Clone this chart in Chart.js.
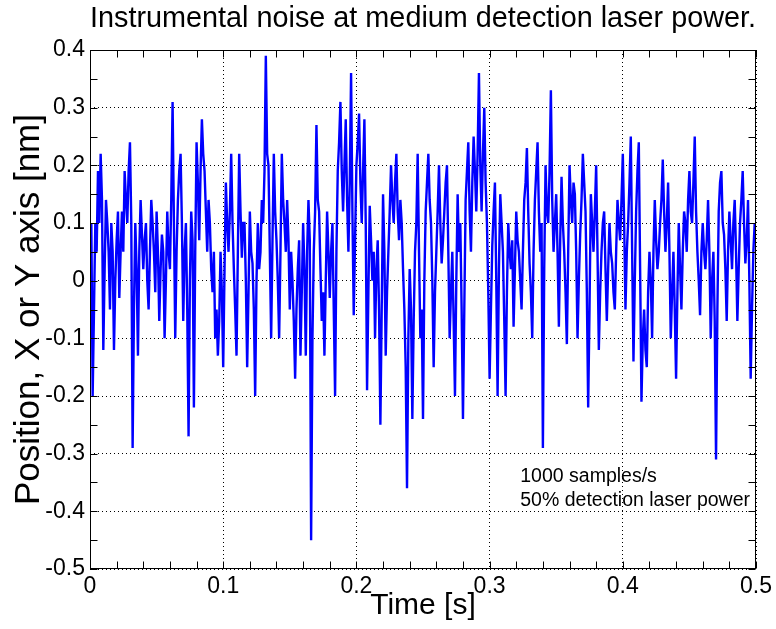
<!DOCTYPE html>
<html>
<head>
<meta charset="utf-8">
<title>Instrumental noise</title>
<script src="https://cdn.jsdelivr.net/npm/chart.js@4.4.0/dist/chart.umd.min.js"></script>
<style>
    html, body { margin: 0; padding: 0; background: #fff; }
    #wrap { width: 776px; height: 629px; }
</style>
</head>
<body>
<div id="wrap"><canvas id="noiseChart" width="776" height="629"></canvas></div>
<script>
// Position samples, 1000 samples/s
const sampleStep = 0.001;
const positionNm = [
    0.05, 0.10, -0.20, -0.05, 0.10, 0.05, 0.19, 0.10, 0.22, 0.14, -0.12, 0.02, 0.14, 0.10, 0.05, -0.05, 0.10, 0.05, -0.12, 0.00,
    0.07, 0.12, -0.03, 0.05, 0.12, 0.05, 0.19, 0.14, 0.10, 0.19, 0.24, 0.10, -0.29, -0.05, 0.10, 0.02, -0.13, 0.05, 0.14, 0.08,
    0.02, 0.07, 0.10, 0.00, -0.05, 0.05, 0.14, 0.10, 0.05, -0.02, 0.12, 0.05, -0.07, 0.02, 0.08, 0.05, -0.10, 0.00, 0.12, 0.05,
    0.02, 0.14, 0.31, 0.10, -0.10, 0.05, 0.14, 0.19, 0.22, 0.10, -0.07, 0.05, 0.10, -0.05, -0.27, 0.00, 0.12, 0.07, -0.22, 0.05,
    0.24, 0.17, 0.07, 0.19, 0.28, 0.22, 0.19, 0.12, 0.05, 0.14, 0.10, 0.02, -0.02, 0.05, -0.10, -0.05, -0.13, -0.07, 0.05, -0.02,
    -0.15, 0.02, 0.17, 0.10, 0.05, 0.12, 0.22, 0.10, 0.02, -0.05, -0.13, 0.05, 0.22, 0.12, 0.04, 0.10, 0.10, 0.00, -0.15, -0.02,
    0.12, 0.05, 0.03, -0.05, -0.20, 0.00, 0.10, 0.02, 0.05, 0.14, 0.10, 0.19, 0.39, 0.22, 0.20, 0.05, -0.10, 0.07, 0.22, 0.12,
    0.07, 0.00, -0.10, 0.05, 0.22, 0.14, 0.10, 0.05, 0.14, 0.07, -0.05, 0.05, 0.00, -0.07, -0.17, -0.05, 0.02, 0.07, -0.13, -0.02,
    0.10, 0.02, -0.13, 0.05, 0.14, 0.07, -0.45, -0.10, 0.05, 0.12, 0.27, 0.14, 0.12, 0.02, -0.07, -0.02, -0.13, 0.00, 0.12, 0.05,
    -0.03, 0.05, 0.10, -0.05, -0.20, 0.05, 0.19, 0.24, 0.31, 0.19, 0.12, 0.20, 0.28, 0.14, 0.05, 0.17, 0.36, 0.12, -0.06, 0.07,
    0.20, 0.24, 0.29, 0.17, 0.10, 0.19, 0.28, 0.10, -0.19, -0.02, 0.13, 0.07, 0.00, 0.05, -0.10, 0.02, 0.07, -0.05, -0.25, -0.05,
    0.15, 0.05, -0.13, -0.02, 0.05, 0.12, 0.20, 0.14, 0.10, 0.17, 0.22, 0.12, 0.07, 0.14, 0.10, 0.02, -0.05, -0.15, -0.36, -0.10,
    0.02, -0.05, -0.24, -0.07, 0.05, 0.10, 0.22, 0.05, -0.10, -0.05, -0.24, 0.00, 0.12, 0.17, 0.22, 0.14, 0.10, 0.00, -0.15, -0.02,
    0.05, 0.12, 0.20, 0.10, 0.03, 0.07, 0.12, 0.17, 0.20, 0.05, -0.10, -0.02, 0.05, -0.07, -0.20, 0.00, 0.15, 0.05, 0.10, -0.05,
    -0.24, -0.05, 0.14, 0.19, 0.24, 0.12, 0.05, 0.17, 0.25, 0.19, 0.12, 0.22, 0.36, 0.20, 0.12, 0.22, 0.30, 0.17, 0.10, -0.02,
    -0.17, -0.05, 0.06, 0.12, 0.17, 0.00, -0.20, 0.02, 0.15, 0.10, 0.05, -0.07, -0.20, -0.02, 0.10, 0.05, 0.02, 0.07, -0.08, 0.02,
    0.12, 0.07, 0.05, 0.00, -0.05, 0.05, 0.14, 0.17, 0.23, 0.12, 0.03, -0.02, -0.10, 0.05, 0.14, 0.19, 0.24, 0.12, 0.05, 0.10,
    -0.29, 0.02, 0.20, 0.12, 0.10, 0.19, 0.33, 0.14, 0.05, 0.10, 0.15, 0.05, -0.08, 0.07, 0.18, 0.10, 0.05, -0.02, -0.11, 0.05,
    0.20, 0.14, 0.10, 0.17, 0.15, 0.05, -0.10, 0.00, 0.08, 0.14, 0.22, 0.17, 0.12, -0.02, -0.22, -0.05, 0.15, 0.10, 0.05, 0.12,
    0.20, 0.05, -0.12, -0.02, 0.05, 0.10, 0.12, 0.02, -0.07, 0.02, 0.10, 0.05, 0.03, -0.02, -0.05, 0.05, 0.14, 0.10, 0.07, 0.14,
    0.22, 0.10, -0.05, 0.05, 0.10, 0.17, 0.25, 0.05, -0.14, 0.00, 0.12, 0.19, 0.24, 0.02, -0.21, -0.10, -0.05, -0.12, -0.15, -0.02,
    0.05, 0.00, -0.10, 0.05, 0.14, 0.07, 0.02, 0.05, 0.10, 0.14, 0.21, 0.12, 0.05, 0.10, 0.17, 0.05, -0.10, -0.02, 0.05, -0.05,
    -0.17, -0.02, 0.10, 0.02, -0.05, 0.05, 0.12, 0.10, 0.05, 0.14, 0.19, 0.12, 0.10, 0.17, 0.25, 0.12, 0.05, 0.00, -0.06, 0.05,
    0.10, 0.05, 0.02, 0.07, 0.14, 0.05, -0.10, 0.00, 0.05, -0.07, -0.31, -0.05, 0.12, 0.17, 0.19, 0.10, 0.08, 0.02, -0.07, 0.05,
    0.12, 0.07, 0.02, 0.10, 0.14, 0.05, -0.07, 0.02, 0.10, 0.14, 0.19, 0.10, 0.03, 0.07, 0.14, 0.00, -0.17, -0.05, 0.05, 0.10,
    0.07
];

const xTicks = [0, 0.1, 0.2, 0.3, 0.4, 0.5];
const xTickLabels = ['0', '0.1', '0.2', '0.3', '0.4', '0.5'];
const yTicks = [-0.5, -0.4, -0.3, -0.2, -0.1, 0, 0.1, 0.2, 0.3, 0.4];
const yTickLabels = ['-0.5', '-0.4', '-0.3', '-0.2', '-0.1', '0', '0.1', '0.2', '0.3', '0.4'];
const xMinorStep = 0.02;
const yMinorStep = 0.05;
const notes = ['1000 samples/s', '50% detection laser power'];

const FONT = "'Liberation Sans', Arial, Helvetica, sans-serif";

// box + inward ticks on all four sides, plus the annotation
const matlabFrame = {
    id: 'matlabFrame',
    afterDraw(chart) {
        const { ctx, chartArea: a, scales: { x, y } } = chart;
        const L = Math.round(a.left) + 0.5, R = Math.round(a.right) - 0.5;
        const T = Math.round(a.top) + 0.5, B = Math.round(a.bottom) - 0.5;
        const tl = 7;
        ctx.save();
        ctx.strokeStyle = '#000';
        ctx.lineWidth = 1;
        ctx.beginPath();
        const nx = Math.round((x.max - x.min) / xMinorStep);
        for (let i = 0; i <= nx; i++) {
            const px = Math.round(x.getPixelForValue(x.min + i * xMinorStep)) + 0.5;
            ctx.moveTo(px, B); ctx.lineTo(px, B - tl);
            ctx.moveTo(px, T); ctx.lineTo(px, T + tl);
        }
        const ny = Math.round((y.max - y.min) / yMinorStep);
        for (let i = 0; i <= ny; i++) {
            const py = Math.round(y.getPixelForValue(y.min + i * yMinorStep)) + 0.5;
            ctx.moveTo(L, py); ctx.lineTo(L + tl, py);
            ctx.moveTo(R, py); ctx.lineTo(R - tl, py);
        }
        ctx.stroke();
        ctx.strokeRect(L, T, R - L, B - T);

        ctx.fillStyle = '#000';
        ctx.font = '19.5px ' + FONT;
        ctx.textAlign = 'left';
        ctx.textBaseline = 'middle';
        const noteX = x.getPixelForValue(0.323);
        ctx.fillText(notes[0], noteX, y.getPixelForValue(-0.34));
        ctx.fillText(notes[1], noteX, y.getPixelForValue(-0.382));
        ctx.restore();
    }
};

const ctx = document.getElementById('noiseChart').getContext('2d');

new Chart(ctx, {
    type: 'scatter',
    data: {
        datasets: [{
            data: positionNm.map((v, i) => ({ x: i * sampleStep, y: v })),
            showLine: true,
            borderColor: '#0000ff',
            borderWidth: 2.4,
            pointRadius: 0,
            tension: 0
        }]
    },
    options: {
        responsive: false,
        animation: false,
        layout: { padding: { right: 16 } },
        plugins: {
            legend: { display: false },
            tooltip: { enabled: false },
            title: {
                display: true,
                fullSize: false,
                text: 'Instrumental noise at medium detection laser power.',
                color: '#000',
                font: { family: FONT, size: 29, weight: 'normal', lineHeight: 1.2 },
                padding: { top: 2, bottom: 13.2 }
            }
        },
        scales: {
            x: {
                type: 'linear',
                min: 0,
                max: 0.5,
                afterBuildTicks: s => { s.ticks = xTicks.map(v => ({ value: v })); },
                afterFit: s => { s.height = 60; },
                ticks: {
                    color: '#000',
                    padding: 4,
                    maxRotation: 0,
                    font: { family: FONT, size: 23 },
                    callback: (v, i) => xTickLabels[i]
                },
                grid: { color: '#000', lineWidth: 1, drawTicks: false },
                border: { display: false, dash: [1, 3] },
                title: {
                    display: true,
                    text: 'Time [s]',
                    color: '#000',
                    font: { family: FONT, size: 30 },
                    padding: { top: 0, bottom: 5 }
                }
            },
            y: {
                type: 'linear',
                min: -0.5,
                max: 0.4,
                afterBuildTicks: s => { s.ticks = yTicks.map(v => ({ value: v })); },
                afterFit: s => { s.width = 90; },
                ticks: {
                    color: '#000',
                    padding: 5,
                    font: { family: FONT, size: 23 },
                    callback: (v, i) => yTickLabels[i]
                },
                grid: { color: '#000', lineWidth: 1, drawTicks: false },
                border: { display: false, dash: [1, 3] },
                title: {
                    display: true,
                    text: 'Position, X or Y axis [nm]',
                    color: '#000',
                    font: { family: FONT, size: 35 },
                    padding: { top: 8, bottom: 0 }
                }
            }
        }
    },
    plugins: [matlabFrame]
});
</script>
</body>
</html>
